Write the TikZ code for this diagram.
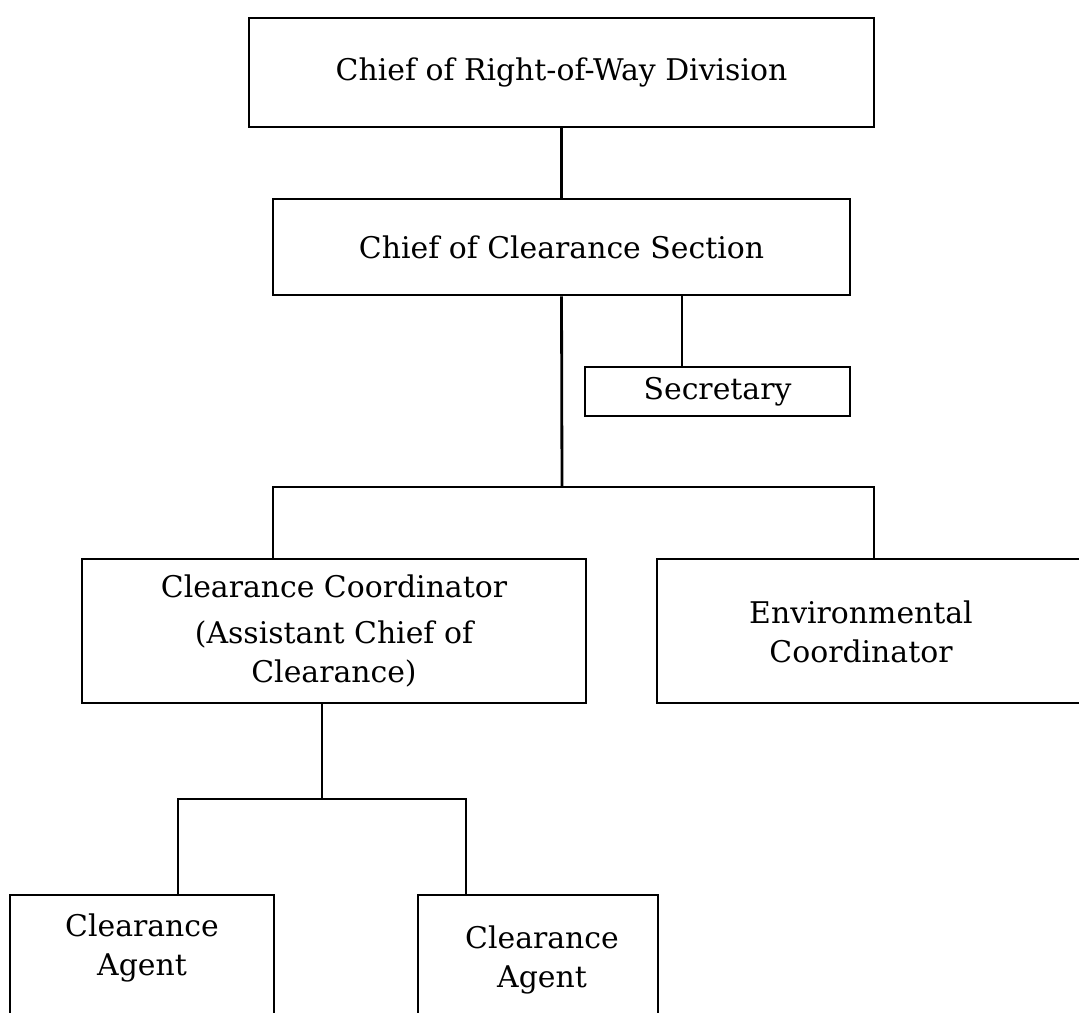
\documentclass[tikz,border=0pt]{standalone}
\usepackage{fontspec}
\setmainfont{DejaVu Serif}
\begin{document}
\begin{tikzpicture}[x=0.02cm, y=-0.02cm, line width=1.6pt,
  every node/.style={font=\fontsize{17}{22}\selectfont},
  box/.style={draw,line width=1.6pt,inner sep=0pt,align=center},
  lbl/.style={align=center,inner sep=0pt}]
\useasboundingbox (0,0) rectangle (1079,1013);
\node[box,minimum width=12.5cm,minimum height=2.18cm] (row) at (561.5,72.5) {Chief of Right-of-Way Division};
\node[box,minimum width=11.54cm,minimum height=1.92cm] (cos) at (561.5,247) {Chief of Clearance Section};
\node[box,minimum width=5.3cm,minimum height=0.98cm] (sec) at (717.5,391.5) {Secretary};
\node[box,minimum width=10.08cm,minimum height=2.88cm] (cc) at (334,631) {Clearance Coordinator\\[4pt](Assistant Chief of\\Clearance)};
\node[box,minimum width=8.76cm,minimum height=2.88cm] (env) at (876,631) {};
\node[lbl] (envt) at (861,632) {Environmental\\Coordinator};
% agents, cut off by the page
\node[box,minimum width=5.28cm,minimum height=3cm] (agl) at (142,970) {};
\node[lbl] (aglt) at (142,948) {Clearance\\Agent};
\node[box,minimum width=4.8cm,minimum height=3cm] (agr) at (538,970) {};
\node[lbl] (agrt) at (542,960) {Clearance\\Agent};
% connectors
\coordinate (bus1) at (562,487);
\coordinate (bus1l) at (273,487); \coordinate (bus1r) at (874,487);
\coordinate (sectap) at (682,367);
\coordinate (bus2) at (322,799);
\coordinate (bus2l) at (178,799); \coordinate (bus2r) at (466,799);
\draw (row) -- (cos);
\draw (cos.south) -- (bus1);
\draw (sectap |- cos.south) -- (sectap);
\draw (bus1l |- cc.north) -- (bus1l) -- (bus1r) -- (bus1r |- env.north);
\draw (bus2 |- cc.south) -- (bus2);
\draw (bus2l |- agl.north) -- (bus2l) -- (bus2r) -- (bus2r |- agr.north);
\end{tikzpicture}
\end{document}
